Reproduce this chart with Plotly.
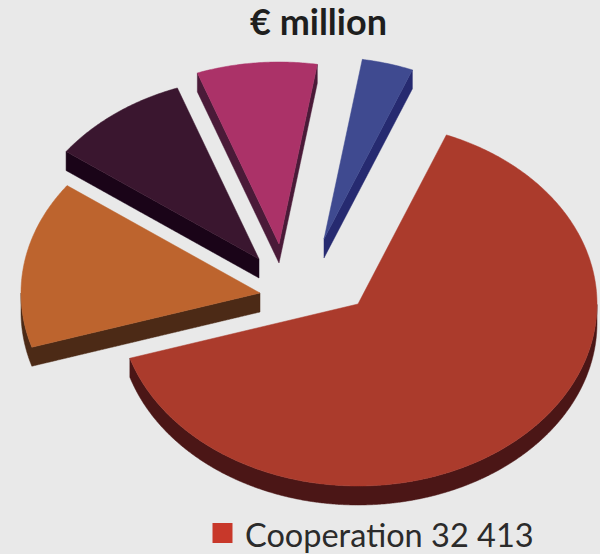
import numpy as np
import plotly.graph_objects as go

# Budget split, EUR million
programmes = ["Cooperation", "Ideas", "People", "Capacities", "JRC"]
budget = [32413, 7510, 4750, 4097, 1751]

top_colours = ["#AB3B2C", "#BD642E", "#3A162F", "#AB3268", "#3F4A90"]
side_colours = ["#4B1616", "#4C2A16", "#1A0418", "#4A1A38", "#262A70"]

# Apex of each exploded slice, in plot units
apex_x = [358, 260, 259, 279, 324]
apex_y = [304, 293, 259, 244, 239]

RX, RY = 239, 182      # tilted-disc radii
DEPTH = 19             # extrusion height
START_ANGLE = 21.7     # clockwise from twelve o'clock


def outline(cx, cy, a0, a1):
    theta = np.radians(np.linspace(a0, a1, max(int(a1 - a0) * 2, 8)))
    xs = cx + RX * np.sin(theta)
    ys = cy - RY * np.cos(theta)
    return np.r_[cx, xs, cx], np.r_[cy, ys, cy]


def side_wall(xs, ys):
    """Band under the lower silhouette of a slice, dropped by the depth."""
    grid = np.unique(np.r_[xs, np.linspace(xs.min(), xs.max(), 300)])
    lower = np.full(grid.shape, -np.inf)
    for k in range(len(xs) - 1):
        left, right = sorted((k, k + 1), key=lambda j: xs[j])
        if xs[right] == xs[left]:
            continue
        mask = (grid >= xs[left]) & (grid <= xs[right])
        seg = np.interp(grid[mask], [xs[left], xs[right]], [ys[left], ys[right]])
        lower[mask] = np.maximum(lower[mask], seg)
    return np.r_[grid, grid[::-1], grid[0]], np.r_[lower, lower[::-1] + DEPTH, lower[0]]


fig = go.Figure()
sweeps = np.array(budget) / sum(budget) * 360
starts = START_ANGLE + np.r_[0, np.cumsum(sweeps)[:-1]]

for i, name in enumerate(programmes):
    xs, ys = outline(apex_x[i], apex_y[i], starts[i], starts[i] + sweeps[i])

    wx, wy = side_wall(xs, ys)
    fig.add_trace(go.Scatter(
        x=wx, y=wy, mode="lines", fill="toself", fillcolor=side_colours[i],
        line=dict(color=side_colours[i], width=0.5, simplify=False),
        hoverinfo="skip", showlegend=False,
    ))

    # top face
    fig.add_trace(go.Scatter(
        x=xs, y=ys, mode="lines", fill="toself", fillcolor=top_colours[i],
        line=dict(color=top_colours[i], width=0.5, simplify=False), name=name,
        text=f"{name}: {budget[i]:,}".replace(",", " "), hoverinfo="text", showlegend=False,
    ))

# key swatch
fig.add_trace(go.Scatter(
    x=[222.5], y=[533], mode="markers",
    marker=dict(symbol="square", size=20, color="#C8382A"),
    hoverinfo="skip", showlegend=False,
))

label = f"{programmes[0]} {budget[0]:,}".replace(",", " ")
fig.add_annotation(x=243, y=534, text=label, showarrow=False, xanchor="left", yanchor="middle",
                   font=dict(family="Lato", size=32.5, color="#2B2B2B"))
fig.add_annotation(x=318.5, y=21, text="<b>€ million</b>", showarrow=False, xanchor="center", yanchor="middle",
                   font=dict(family="Lato", size=36, color="#1E1E1E"))

fig.update_layout(
    width=600, height=554, margin=dict(l=0, r=0, t=0, b=0),
    paper_bgcolor="#E9E9E9", plot_bgcolor="#E9E9E9",
    xaxis=dict(range=[0, 600], visible=False, fixedrange=True),
    yaxis=dict(range=[554, 0], visible=False, fixedrange=True),
)
fig.write_html("out.html", config={"displayModeBar": False})
